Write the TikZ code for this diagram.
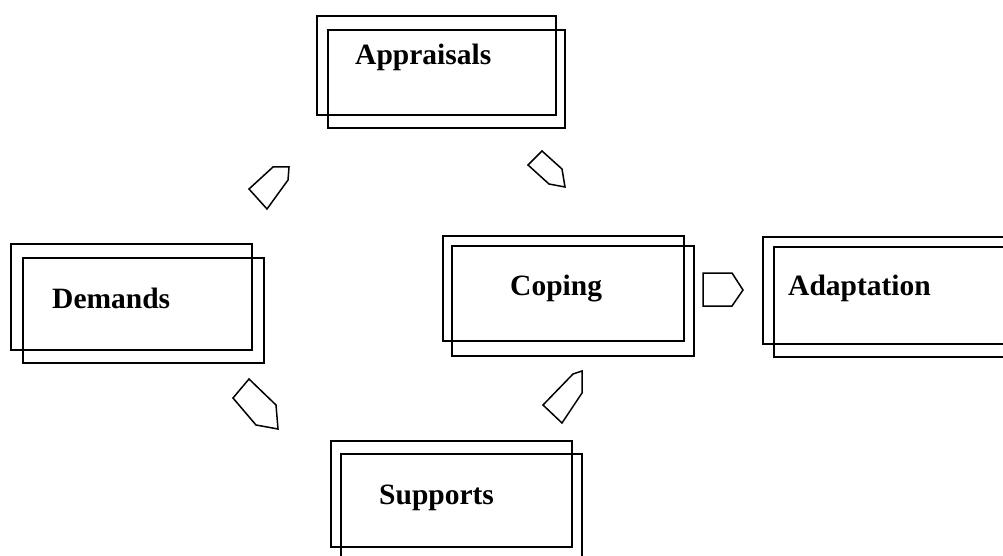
\documentclass[tikz,border=0pt]{standalone}
\usepackage{fontspec}
\setmainfont{Liberation Serif}
\begin{document}
\begin{tikzpicture}[x=1pt,y=-1pt,
  box/.style={draw=black, line width=2pt, rectangle, inner sep=0pt, outer sep=0pt},
  lbl/.style={anchor=base west, inner sep=0pt, font=\fontsize{29.5}{31}\selectfont\bfseries},
  blockarrow/.style={draw=black, line width=1.5pt, line join=miter}]
\useasboundingbox (0,0) rectangle (1003,556);
\clip (0,0) rectangle (1003,556);
% Appraisals
\node[box, minimum width=239pt, minimum height=99pt] (appA) at (436.5,65.5) {};
\node[box, minimum width=237pt, minimum height=98pt] (appB) at (446.5,79) {};
\node[lbl] (appT) at (355,65) {Appraisals};
% Demands
\node[box, minimum width=241pt, minimum height=106pt] (demA) at (131.5,297) {};
\node[box, minimum width=241pt, minimum height=105pt] (demB) at (143.5,310.5) {};
\node[lbl] (demT) at (52,308) {Demands};
% Coping
\node[box, minimum width=241pt, minimum height=105pt] (copA) at (563.5,288.5) {};
\node[box, minimum width=242pt, minimum height=110pt] (copB) at (573,301) {};
\node[lbl] (copT) at (510,295) {Coping};
% Adaptation
\node[box, minimum width=241pt, minimum height=107pt] (adaA) at (883.5,290.5) {};
\node[box, minimum width=241pt, minimum height=110pt] (adaB) at (894.5,302) {};
\node[lbl] (adaT) at (788,295) {Adaptation};
% Supports
\node[box, minimum width=241pt, minimum height=106pt] (supA) at (451.5,494) {};
\node[box, minimum width=241pt, minimum height=106pt] (supB) at (461.5,507) {};
\node[lbl] (supT) at (379,504) {Supports};
% block arrows
\draw[blockarrow] (249,189) -- (273,167) -- (289,167) -- (288,180) -- (267,209) -- cycle;
\draw[blockarrow] (542,151) -- (528,165) -- (549,184) -- (565,187) -- (562,169) -- cycle;
\draw[blockarrow] (249,379) -- (233,398) -- (256,425) -- (278,429) -- (276,405) -- cycle;
\draw[blockarrow] (573,374) -- (582,371) -- (582,393) -- (562,423) -- (543,405) -- cycle;
\draw[blockarrow] (703,273) -- (732,273) -- (743,290) -- (732,306) -- (703,306) -- cycle;
\end{tikzpicture}
\end{document}
